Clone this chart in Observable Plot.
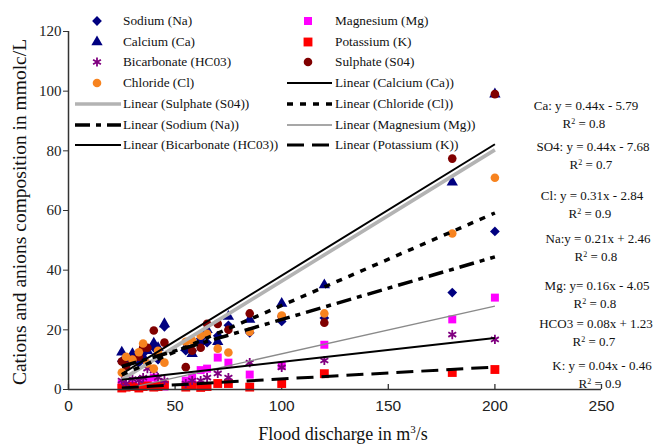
<!DOCTYPE html>
<html><head><meta charset="utf-8">
<script src="https://cdn.jsdelivr.net/npm/d3@7"></script>
<script src="https://cdn.jsdelivr.net/npm/@observablehq/plot@0.6"></script>
<style>
body{margin:0;background:#fff;}
#wrap{position:relative;width:665px;height:444px;overflow:hidden;font-family:"Liberation Serif","Times New Roman",serif;color:#111;}
#wrap svg.plot{position:absolute;left:0;top:0;}
.lg{position:absolute;font-size:13.3px;white-space:nowrap;line-height:1;transform:translateY(-50%);}
.eq{position:absolute;font-size:13px;white-space:nowrap;line-height:1;transform:translate(-50%,-50%);}
.ttl{position:absolute;white-space:nowrap;line-height:1;transform:translate(-50%,-50%);}
</style></head><body><div id="wrap"></div>
<script>
// ---- data ----
const discharge   = [25, 27, 30, 33, 35, 37, 40, 42, 45, 55, 58, 62, 65, 70, 75, 85, 100, 120, 180, 200];
const sodium      = [9.5, 8, 10.5, 9, 12, 13.7, 14, 10, 21, 13, 13, 17, 15.7, 18, 21.5, 19, 22.8, 24, 32.5, 53];
const magnesium   = [2, 1, 1.5, 0.8, 2, 3, 4, 1.5, 1, 3, 4, 6.5, 7, 10.7, 9, 5, 8, 15, 23.5, 30.8];
const calcium     = [12.5, 9.5, 12, 10, 11, 13, 15.5, 14, 22, 14, 12, 16, 20, 16, 24.5, 23.5, 28.8, 35, 69.5, 99];
const potassium   = [0.5, 0.8, 1, 0.5, 1, 1.2, 0.8, 1, 1.5, 0.8, 1.3, 0.7, 1, 2, 2, 0.8, 2, 5.3, 5.7, 6.7];
const bicarbonate = [3, 2, 3.5, 3, 4, 7, 6.4, 4, 3, 2, 3, 3, 4, 5.4, 4, 9, 7.4, 9.7, 18.4, 16.8];
const sulphate    = [9.4, 8, 10, 11, 14, 14, 19.8, 12, 15.7, 7.5, 13, 14, 22, 22, 20, 25.5, 24.5, 22.4, 77.4, 99];
const chloride    = [5.7, 11, 10, 12.5, 15.4, 8.7, 7, 13, 9, 16, 16.4, 18, 18.7, 13.7, 12.4, 19.4, 24.8, 25.5, 52.3, 71];

// trend lines (printed equations)
const fitIon       = ["Ca", "SO4", "Cl", "Na", "Mg", "HCO3", "K"];
const fitSlope     = [0.44, 0.44, 0.31, 0.21, 0.16, 0.08, 0.04];
const fitIntercept = [-5.79, -7.68, -2.84, 2.46, -4.05, 1.23, -0.46];
const fitR2        = [0.8, 0.7, 0.9, 0.8, 0.8, 0.7, 0.9];
const fitRange     = [25, 200];
const eqLabels     = ["Ca: y = 0.44x - 5.79", "SO4: y = 0.44x - 7.68", "Cl:  y = 0.31x - 2.84",
                      "Na:y = 0.21x + 2.46", "Mg: y= 0.16x - 4.05", "HCO3 = 0.08x + 1.23", "K: y = 0.04x - 0.46"];

const xTicks = [0, 50, 100, 150, 200, 250];
const yTicks = [0, 20, 40, 60, 80, 100, 120];

// ---- styles ----
const series = [
  {name: "Sodium  (Na)",        values: sodium,      symbol: "diamond2", fill: "#000080", r: 4.4},
  {name: "Magnesium (Mg)",      values: magnesium,   symbol: "square",   fill: "#ff00ff", r: 4.5},
  {name: "Calcium  (Ca)",       values: calcium,     symbol: "triangle", fill: "#000080", r: 4.2},
  {name: "Potassium  (K)",      values: potassium,   symbol: "square",   fill: "#ff0000", r: 5},
  {name: "Bicarbonate (HC03)",  values: bicarbonate, symbol: "asterisk", stroke: "#800080", r: 4.3},
  {name: "Sulphate (S04)",      values: sulphate,    symbol: "circle",   fill: "#800000", r: 4.3},
  {name: "Chloride (Cl)",       values: chloride,    symbol: "circle",   fill: "#f7831f", r: 4.3}
];
const lineStyle = {
  Ca:   {stroke: "#000", strokeWidth: 2},
  SO4:  {stroke: "#b3b3b3", strokeWidth: 3.6},
  Cl:   {stroke: "#000", strokeWidth: 3.5, strokeDasharray: "6,7"},
  Na:   {stroke: "#000", strokeWidth: 3.5, strokeDasharray: "15,6,5,6"},
  Mg:   {stroke: "#8a8a8a", strokeWidth: 1.4},
  HCO3: {stroke: "#000", strokeWidth: 2},
  K:    {stroke: "#000", strokeWidth: 3, strokeDasharray: "17,8"}
};

const W = 665, H = 444, mL = 68, mR = 64, mT = 31, mB = 55;
const frameH = H - mT - mB;

const dotMarks = series.map(s => {
  const rows = discharge.map((x, i) => ({x, y: s.values[i]})).filter(d => d.y != null);
  return Plot.dot(rows, {x: "x", y: "y", symbol: () => s.symbol, r: s.r,
    fill: s.fill || "none", stroke: s.stroke || "none", strokeWidth: s.stroke ? 1.8 : 0});
});
const drawOrder = ["SO4", "Ca", "Cl", "Na", "Mg", "HCO3", "K"];
const lineMarks = drawOrder.map(k => {
  const i = fitIon.indexOf(k);
  const pts = fitRange.map(x => ({x, y: fitSlope[i] * x + fitIntercept[i]}));
  return Plot.line(pts, {x: "x", y: "y", ...lineStyle[k], strokeLinecap: "butt"});
});

const chart = Plot.plot({
  width: W, height: H, marginLeft: mL, marginRight: mR, marginTop: mT, marginBottom: mB,
  style: {background: "transparent", overflow: "visible"},
  x: {domain: [0, 250]},
  y: {domain: [0, 120]},
  marks: [
    Plot.axisY({ticks: yTicks, tickSize: 5, tickPadding: 2, fontSize: 15, fontFamily: "Liberation Serif", label: null, stroke: "#333", color: "#222"}),
    Plot.axisX({ticks: xTicks, tickSize: 0, tickPadding: 10, fontSize: 15.5, fontFamily: "Liberation Sans", label: null, color: "#222"}),
    Plot.tickX(xTicks, {x: d => d, insetTop: frameH - 5, stroke: "#333", strokeWidth: 1.3}),
    ...dotMarks,
    ...lineMarks,
    Plot.ruleX([0], {stroke: "#333", strokeWidth: 1.5}),
    Plot.ruleY([0], {stroke: "#333", strokeWidth: 1.5})
  ]
});
chart.classList.add("plot");
const wrap = document.getElementById("wrap");
wrap.appendChild(chart);

// ---- legend overlay ----
function el(tag, cls, style, text) {
  const e = document.createElement(tag);
  if (cls) e.className = cls;
  Object.assign(e.style, style || {});
  if (text != null) e.textContent = text;
  wrap.appendChild(e);
  return e;
}
const NS = "http://www.w3.org/2000/svg";
function markerSwatch(s, cx, cy) {
  const svg = document.createElementNS(NS, "svg");
  svg.setAttribute("width", 16); svg.setAttribute("height", 16);
  svg.style.position = "absolute"; svg.style.left = (cx - 8) + "px"; svg.style.top = (cy - 8) + "px";
  const p = document.createElementNS(NS, "path");
  const symMap = {diamond2: d3.symbolDiamond2, square: d3.symbolSquare, triangle: d3.symbolTriangle, asterisk: d3.symbolAsterisk, circle: d3.symbolCircle};
  p.setAttribute("d", d3.symbol(symMap[s.symbol], Math.PI * s.r * s.r)());
  p.setAttribute("transform", "translate(8,8)");
  p.setAttribute("fill", s.fill || "none");
  if (s.stroke) { p.setAttribute("stroke", s.stroke); p.setAttribute("stroke-width", 1.8); }
  svg.appendChild(p); wrap.appendChild(svg);
}
function lineSwatch(st, x1, x2, cy) {
  const svg = document.createElementNS(NS, "svg");
  svg.setAttribute("width", x2 - x1); svg.setAttribute("height", 10);
  svg.style.position = "absolute"; svg.style.left = x1 + "px"; svg.style.top = (cy - 5) + "px";
  const l = document.createElementNS(NS, "line");
  l.setAttribute("x1", 0); l.setAttribute("x2", x2 - x1); l.setAttribute("y1", 5); l.setAttribute("y2", 5);
  l.setAttribute("stroke", st.stroke); l.setAttribute("stroke-width", st.strokeWidth);
  if (st.strokeDasharray) l.setAttribute("stroke-dasharray", st.strokeDasharray);
  svg.appendChild(l); wrap.appendChild(svg);
}
const legendLines = {
  SO4: "Linear (Sulphate (S04))", Na: "Linear (Sodium  (Na))", HCO3: "Linear (Bicarbonate (HC03))",
  Ca: "Linear (Calcium  (Ca))", Cl: "Linear (Chloride (Cl))", Mg: "Linear (Magnesium (Mg))", K: "Linear (Potassium  (K))"
};
const col1 = [{m: 0}, {m: 2}, {m: 4}, {m: 6}, {l: "SO4"}, {l: "Na"}, {l: "HCO3"}];
const col2 = [{m: 1}, {m: 3}, {m: 5}, {l: "Ca"}, {l: "Cl"}, {l: "Mg"}, {l: "K"}];
const rowY = i => 21 + i * 20.7;
[[col1, 97, 75, 121, 123], [col2, 308, 287, 332, 335]].forEach(([col, mx, lx1, lx2, tx]) => {
  col.forEach((e, i) => {
    const y = rowY(i);
    if (e.m != null) { markerSwatch(series[e.m], mx, y); el("div", "lg", {left: tx + "px", top: y + "px"}, series[e.m].name); }
    else { lineSwatch(lineStyle[e.l], lx1, lx2, y); el("div", "lg", {left: tx + "px", top: y + "px"}, legendLines[e.l]); }
  });
});

// ---- equations ----
const eqY = [105, 146, 195, 238, 285, 323, 365];
const eqX = [586, 593, 592, 598, 597, 596, 602];
eqLabels.forEach((t, i) => {
  el("div", "eq", {left: eqX[i] + "px", top: eqY[i] + "px"}, t);
  const r = el("div", "eq", {left: (eqX[i] - 2) + "px", top: (eqY[i] + 18) + "px"});
  r.innerHTML = "R<sup style='font-size:8px;vertical-align:4px'>2</sup> = " + fitR2[i];
});

// ---- axis titles ----
el("div", "ttl", {left: "20px", top: "212px", fontSize: "19.5px", transform: "translate(-50%,-50%) rotate(-90deg)"}, "Cations and anions  composition in mmolc/L");
const xt = el("div", "ttl", {left: "343px", top: "433px", fontSize: "18px"});
xt.innerHTML = "Flood discharge in m<sup style='font-size:11px;vertical-align:7px'>3</sup>/s";
</script></body></html>
